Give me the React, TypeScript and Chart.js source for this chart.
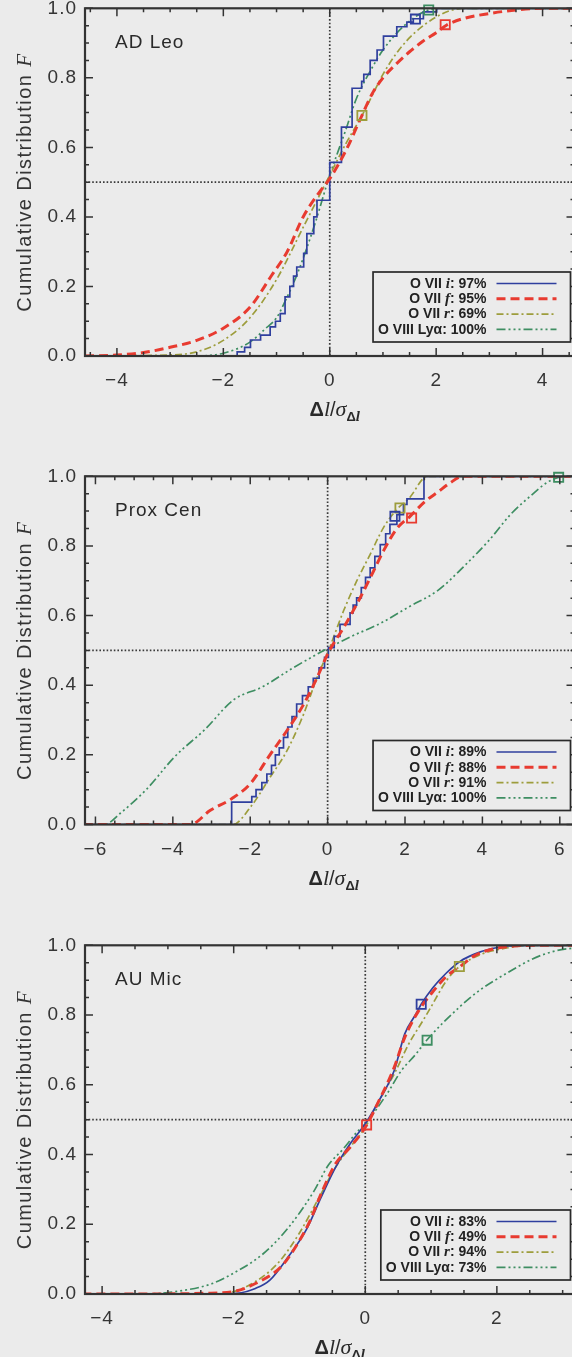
import React, { useEffect, useRef } from "react";
import { Chart, registerables } from "chart.js";
Chart.register(...registerables);

type P = [number, number];

// ---------- AD Leo ----------
const adLeoI: P[] = [[-4.6,0],[-1.74,0.012],[-1.6,0.025],[-1.49,0.046],[-1.3,0.06],[-1.12,0.084],[-1.02,0.1],[-0.93,0.122],[-0.84,0.17],[-0.75,0.2],[-0.68,0.23],[-0.62,0.256],[-0.49,0.295],[-0.43,0.352],[-0.3,0.4],[-0.24,0.448],[0.0,0.557],[0.22,0.658],[0.42,0.77],[0.6,0.79],[0.64,0.81],[0.76,0.85],[0.89,0.88],[1.01,0.92],[1.26,0.947],[1.45,0.96],[1.57,0.97],[1.76,0.99],[2.01,1.0],[4.6,1.0]];
const adLeoF: P[] = [[-4.6,0],[-4,0.003],[-3.5,0.01],[-3,0.025],[-2.5,0.045],[-2,0.08],[-1.5,0.14],[-1.1,0.23],[-0.8,0.3],[-0.5,0.4],[-0.2,0.47],[0,0.51],[0.3,0.59],[0.6,0.69],[0.8,0.755],[1,0.8],[1.25,0.84],[1.5,0.875],[1.75,0.905],[2,0.93],[2.2,0.952],[2.5,0.97],[3,0.985],[3.5,0.995],[4,1],[4.6,1]];
const adLeoR: P[] = [[-4.6,0],[-3,0.003],[-2.5,0.012],[-2,0.045],[-1.5,0.11],[-1,0.22],[-0.5,0.37],[-0.2,0.46],[0,0.52],[0.3,0.61],[0.6,0.69],[0.8,0.75],[1,0.81],[1.3,0.88],[1.6,0.93],[2,0.975],[2.3,0.995],[2.6,1],[4.6,1]];
const adLeoLya: P[] = [[-4.6,0],[-2.6,0],[-2,0.008],[-1.5,0.04],[-1.2,0.08],[-1,0.11],[-0.8,0.17],[-0.6,0.24],[-0.3,0.37],[0,0.52],[0.3,0.65],[0.5,0.74],[0.8,0.83],[1,0.88],[1.4,0.95],[1.86,0.995],[2.2,1],[4.6,1]];
const adLeoMarks: P[] = [[1.61,0.969],[2.17,0.953],[0.605,0.692],[1.86,0.995]];
const adLeoPct = [97, 95, 69, 100];
const adLeoXTicks = [-4, -2, 0, 2, 4];

// ---------- Prox Cen ----------
const proxCenI: P[] = [[-6.3,0],[-2.48,0.064],[-1.96,0.08],[-1.85,0.1],[-1.7,0.12],[-1.57,0.145],[-1.45,0.17],[-1.35,0.2],[-1.25,0.22],[-1.14,0.25],[-1.03,0.28],[-0.92,0.31],[-0.8,0.346],[-0.65,0.37],[-0.5,0.395],[-0.37,0.42],[-0.22,0.45],[-0.08,0.48],[0.02,0.508],[0.17,0.54],[0.32,0.575],[0.58,0.608],[0.66,0.63],[0.75,0.651],[0.87,0.68],[0.98,0.71],[1.1,0.737],[1.22,0.77],[1.36,0.804],[1.5,0.835],[1.61,0.862],[1.79,0.89],[1.96,0.919],[2.05,0.935],[2.49,1.0],[6.4,1.0]];
const proxCenF: P[] = [[-6.3,0],[-3.55,0],[-3.04,0.04],[-2.48,0.074],[-2,0.117],[-1.49,0.2],[-1.05,0.27],[-0.62,0.345],[-0.28,0.42],[0.02,0.494],[0.41,0.565],[0.75,0.632],[1.1,0.708],[1.44,0.785],[1.79,0.85],[2.13,0.885],[2.52,0.928],[2.85,0.955],[3.15,0.98],[3.5,1],[6.4,1]];
const proxCenR: P[] = [[-6.3,0],[-2.45,0],[-2,0.049],[-1.49,0.135],[-1.05,0.212],[-0.62,0.317],[-0.28,0.42],[0.02,0.499],[0.41,0.613],[0.75,0.699],[1.1,0.776],[1.44,0.852],[1.79,0.905],[2.13,0.94],[2.48,0.995],[2.6,1],[6.4,1]];
const proxCenLya: P[] = [[-6.3,0],[-5.77,0],[-5.35,0.033],[-4.69,0.1],[-3.94,0.196],[-3.18,0.272],[-2.43,0.358],[-1.67,0.396],[-0.92,0.448],[-0.16,0.496],[0.59,0.539],[1.35,0.577],[2.1,0.625],[2.86,0.673],[3.51,0.74],[4.17,0.816],[4.74,0.892],[5.3,0.949],[5.68,0.983],[5.97,0.997],[6.2,1],[6.4,1]];
const proxCenMarks: P[] = [[1.74,0.885],[2.17,0.88],[1.87,0.909],[5.97,0.997]];
const proxCenPct = [89, 88, 91, 100];
const proxCenXTicks = [-6, -4, -2, 0, 2, 4, 6];

// ---------- AU Mic ----------
const auMicI: P[] = [[-4.3,0],[-2.3,0],[-1.95,0.002],[-1.67,0.016],[-1.45,0.04],[-1.17,0.107],[-0.9,0.183],[-0.67,0.278],[-0.45,0.364],[-0.23,0.431],[0,0.488],[0.21,0.555],[0.44,0.641],[0.6,0.746],[0.77,0.803],[0.85,0.831],[1.03,0.879],[1.24,0.922],[1.45,0.955],[1.65,0.974],[1.91,0.99],[2.17,0.998],[2.5,1],[3.2,1]];
const auMicF: P[] = [[-4.3,0],[-3.3,0],[-2.45,0.002],[-2,0.007],[-1.67,0.03],[-1.28,0.078],[-1.06,0.135],[-0.84,0.21],[-0.67,0.288],[-0.45,0.374],[-0.23,0.421],[0,0.478],[0.21,0.555],[0.44,0.65],[0.6,0.736],[0.81,0.812],[1.04,0.87],[1.24,0.912],[1.45,0.94],[1.65,0.969],[1.91,0.988],[2.27,0.998],[2.6,1],[3.2,1]];
const auMicR: P[] = [[-4.3,0],[-2.23,0],[-1.78,0.024],[-1.34,0.086],[-1.01,0.172],[-0.73,0.267],[-0.45,0.364],[-0.23,0.421],[0,0.478],[0.21,0.555],[0.44,0.631],[0.66,0.717],[0.88,0.785],[0.98,0.817],[1.24,0.9],[1.43,0.939],[1.76,0.974],[2.17,0.993],[2.53,1],[3.2,1]];
const auMicLya: P[] = [[-4.3,0],[-3.34,0],[-2.78,0.01],[-2.34,0.029],[-2,0.06],[-1.56,0.114],[-1.17,0.19],[-0.78,0.295],[-0.56,0.37],[-0.34,0.415],[-0.12,0.466],[0,0.488],[0.33,0.574],[0.55,0.641],[0.77,0.688],[0.93,0.727],[1.45,0.826],[1.76,0.874],[2.17,0.922],[2.53,0.96],[2.89,0.984],[3.2,0.993]];
const auMicMarks: P[] = [[0.85,0.831],[0.02,0.485],[1.43,0.939],[0.94,0.728]];
const auMicPct = [83, 49, 94, 73];
const auMicXTicks = [-4, -2, 0, 2];

// ---------- shared ----------
const yTicks = [0, 0.2, 0.4, 0.6, 0.8, 1.0];
const lineIons = ["O VII ", "O VII ", "O VII ", "O VIII "];
const lineSyms = ["i", "f", "r", "Lyα"];
const yTitle = "Cumulative Distribution ";
const yTitleSym = "F";

const COLORS = ["#2f3f9e", "#e83b30", "#9d9d3c", "#3e8e62"];
const DASHES: number[][] = [[], [9, 5], [7, 3, 2, 3], [9, 3, 2, 3, 2, 3, 2, 3]];
const WIDTHS = [1.7, 3, 1.7, 1.7];
const ORDERS = [1, 0, 2, 3];
const AXIS = "#333333";
const TEXT = "#353535";
const BG = "#ebebeb";
const SANS = "'Liberation Sans', Arial, sans-serif";
const SERIF = "'Liberation Serif', 'Times New Roman', serif";

type PanelCfg = {
  name: string;
  series: P[][];
  stepped: boolean;
  marks: P[];
  pct: number[];
  xTicks: number[];
  xMin: number;
  xMax: number;
  top: number;
  padTop: number;
  padBottom: number;
  titleDx: number;
};

const PANELS: PanelCfg[] = [
  { name: "AD Leo", series: [adLeoI, adLeoF, adLeoR, adLeoLya], stepped: true, marks: adLeoMarks, pct: adLeoPct, xTicks: adLeoXTicks, xMin: -4.6, xMax: 4.6, top: 0, padTop: 7.5, padBottom: 114, titleDx: 5 },
  { name: "Prox Cen", series: [proxCenI, proxCenF, proxCenR, proxCenLya], stepped: true, marks: proxCenMarks, pct: proxCenPct, xTicks: proxCenXTicks, xMin: -6.27, xMax: 6.38, top: 467.5, padTop: 7.5, padBottom: 113.5, titleDx: 4 },
  { name: "AU Mic", series: [auMicI, auMicF, auMicR, auMicLya], stepped: false, marks: auMicMarks, pct: auMicPct, xTicks: auMicXTicks, xMin: -4.26, xMax: 3.18, top: 937, padTop: 7.5, padBottom: 113, titleDx: 10 },
];

const CW = 600;
const CH = 470;

type Seg = { t: string; f: string; dy?: number };
function segsWidth(ctx: CanvasRenderingContext2D, segs: Seg[]) {
  let w = 0;
  for (const s of segs) { ctx.font = s.f; w += ctx.measureText(s.t).width; }
  return w;
}
function drawSegs(ctx: CanvasRenderingContext2D, segs: Seg[], x: number, y: number) {
  let cx = x;
  for (const s of segs) {
    ctx.font = s.f;
    ctx.fillText(s.t, cx, y + (s.dy || 0));
    cx += ctx.measureText(s.t).width;
  }
}

function makeDeco(cfg: PanelCfg) {
  return {
    id: "deco",
    beforeDatasetsDraw(chart: any) {
      const { ctx, chartArea: a, scales } = chart;
      const x = scales.x, y = scales.y;
      ctx.save();
      ctx.strokeStyle = "#3a3a3a";
      ctx.lineWidth = 1.7;
      ctx.setLineDash([1.6, 2.0]);
      const x0 = x.getPixelForValue(0);
      const y5 = y.getPixelForValue(0.5);
      ctx.beginPath();
      ctx.moveTo(x0, a.top); ctx.lineTo(x0, a.bottom);
      ctx.moveTo(a.left, y5); ctx.lineTo(a.right, y5);
      ctx.stroke();
      ctx.restore();
    },
    afterDatasetsDraw(chart: any) {
      const { ctx, chartArea: a, scales } = chart;
      const x = scales.x, y = scales.y;
      ctx.save();
      // ticks
      ctx.strokeStyle = AXIS;
      ctx.lineWidth = 1.5;
      ctx.setLineDash([]);
      ctx.beginPath();
      const xStart = Math.ceil(cfg.xMin * 2) / 2;
      for (let v = xStart; v <= cfg.xMax + 1e-9; v += 0.5) {
        const px = x.getPixelForValue(v);
        const major = Math.abs(v / 2 - Math.round(v / 2)) < 1e-6;
        const len = major ? 8 : 4;
        ctx.moveTo(px, a.bottom); ctx.lineTo(px, a.bottom - len);
        ctx.moveTo(px, a.top); ctx.lineTo(px, a.top + len);
      }
      for (let i = 0; i <= 20; i++) {
        const v = i * 0.05;
        const py = y.getPixelForValue(v);
        const major = i % 4 === 0;
        const len = major ? 8 : 4;
        ctx.moveTo(a.left, py); ctx.lineTo(a.left + len, py);
        ctx.moveTo(a.right, py); ctx.lineTo(a.right - len, py);
      }
      ctx.stroke();
      // box
      ctx.lineWidth = 2.2;
      ctx.strokeRect(a.left, a.top, a.right - a.left, a.bottom - a.top);

      // tick labels
      ctx.fillStyle = TEXT;
      ctx.font = `19px ${SANS}`;
      (ctx as any).letterSpacing = "1px";
      ctx.textAlign = "right";
      ctx.textBaseline = "middle";
      for (const v of yTicks) {
        ctx.fillText(v.toFixed(1), 77, y.getPixelForValue(v));
      }
      ctx.textAlign = "center";
      for (const v of cfg.xTicks) {
        const lab = v < 0 ? "\u2212" + Math.abs(v) : String(v);
        ctx.fillText(lab, x.getPixelForValue(v), a.bottom + 25);
      }
      (ctx as any).letterSpacing = "0px";

      // panel name
      ctx.fillStyle = "#2a2a2a";
      ctx.textAlign = "left";
      ctx.textBaseline = "alphabetic";
      ctx.font = `19px ${SANS}`;
      (ctx as any).letterSpacing = "1px";
      ctx.fillText(cfg.name, 115, a.top + 40);
      (ctx as any).letterSpacing = "0px";

      // x title
      ctx.fillStyle = "#2a2a2a";
      const xt: Seg[] = [
        { t: "Δ", f: `bold 20px ${SANS}` },
        { t: "l", f: `italic 22px ${SERIF}` },
        { t: "/", f: `20px ${SANS}` },
        { t: "σ", f: `italic 22px ${SERIF}` },
        { t: "Δ", f: `bold 13px ${SANS}`, dy: 5 },
        { t: "l", f: `italic bold 15px ${SERIF}`, dy: 5 },
      ];
      const xtw = segsWidth(ctx, xt);
      const xc = (a.left + a.right) / 2 + cfg.titleDx;
      drawSegs(ctx, xt, xc - xtw / 2, a.bottom + 60);

      // y title
      ctx.save();
      const yc = (a.top + a.bottom) / 2;
      ctx.translate(25, yc);
      ctx.rotate(-Math.PI / 2);
      ctx.textBaseline = "middle";
      ctx.fillStyle = TEXT;
      (ctx as any).letterSpacing = "1.4px";
      const yt: Seg[] = [
        { t: yTitle, f: `20px ${SANS}` },
        { t: yTitleSym, f: `italic 21px ${SERIF}` },
      ];
      const ytw = segsWidth(ctx, yt);
      drawSegs(ctx, yt, -ytw / 2, 0);
      ctx.restore();

      // legend
      const right = a.right - 4;
      const bottom = a.bottom - 14;
      const boxH = 70;
      const boxTop = bottom - boxH;
      const textRight = right - 84;
      const rows: Seg[][] = cfg.pct.map((p, i) => {
        const fb = `bold 14px ${SANS}`;
        if (i === 3) return [{ t: lineIons[i] + lineSyms[i] + ": " + p + "%", f: fb }];
        return [
          { t: lineIons[i], f: fb },
          { t: lineSyms[i], f: `italic bold 15px ${SERIF}` },
          { t: ": " + p + "%", f: fb },
        ];
      });
      let maxW = 0;
      for (const r of rows) maxW = Math.max(maxW, segsWidth(ctx, r));
      const boxLeft = textRight - maxW - 5;
      ctx.fillStyle = BG;
      ctx.fillRect(boxLeft, boxTop, right - boxLeft, boxH);
      ctx.strokeStyle = "#2a2a2a";
      ctx.lineWidth = 1.7;
      ctx.strokeRect(boxLeft, boxTop, right - boxLeft, boxH);
      ctx.textBaseline = "middle";
      ctx.textAlign = "left";
      rows.forEach((r, i) => {
        const cy = boxTop + 11.5 + i * 15.3;
        ctx.fillStyle = "#222222";
        const w = segsWidth(ctx, r);
        drawSegs(ctx, r, textRight - w, cy + 0.5);
        ctx.strokeStyle = COLORS[i];
        ctx.lineWidth = WIDTHS[i];
        ctx.setLineDash(DASHES[i]);
        ctx.beginPath();
        ctx.moveTo(right - 74, cy);
        ctx.lineTo(right - 14, cy);
        ctx.stroke();
      });
      ctx.setLineDash([]);
      ctx.restore();
    },
  };
}

function Panel({ cfg }: { cfg: PanelCfg }) {
  const ref = useRef<HTMLCanvasElement | null>(null);
  useEffect(() => {
    const canvas = ref.current;
    if (!canvas) return;
    const datasets: any[] = cfg.series.map((s, i) => ({
      label: lineIons[i] + lineSyms[i],
      data: s.map(([x, y]) => ({ x, y })),
      borderColor: COLORS[i],
      borderWidth: WIDTHS[i],
      borderDash: DASHES[i],
      pointRadius: 0,
      fill: false,
      order: ORDERS[i],
      stepped: i === 0 && cfg.stepped ? "before" : false,
      cubicInterpolationMode: "monotone",
      tension: 0.4,
    }));
    cfg.marks.forEach(([x, y], i) => {
      datasets.push({
        label: "mark" + i,
        data: [{ x, y }],
        showLine: false,
        pointStyle: "rect",
        pointRadius: 6.5,
        pointBorderWidth: 1.8,
        pointBorderColor: COLORS[i],
        pointBackgroundColor: "rgba(0,0,0,0)",
        order: -1,
        clip: false,
      });
    });
    const chart = new Chart(canvas, {
      type: "line",
      data: { datasets },
      options: {
        animation: false,
        responsive: false,
        maintainAspectRatio: false,
        events: [],
        layout: { padding: { left: 85, right: CW - 574.5, top: cfg.padTop, bottom: cfg.padBottom } },
        scales: {
          x: { type: "linear", min: cfg.xMin, max: cfg.xMax, display: false },
          y: { type: "linear", min: 0, max: 1, display: false },
        },
        plugins: { legend: { display: false }, tooltip: { enabled: false } },
      },
      plugins: [makeDeco(cfg)],
    } as any);
    return () => chart.destroy();
  }, [cfg]);
  return (
    <canvas
      ref={ref}
      width={CW}
      height={CH}
      style={{ position: "absolute", left: 0, top: cfg.top, width: CW, height: CH }}
    />
  );
}

export default function App() {
  return (
    <div
      style={{
        position: "fixed",
        left: 0,
        top: 0,
        width: 572,
        height: 1357,
        overflow: "hidden",
        background: BG,
      }}
    >
      {PANELS.map((p) => (
        <Panel key={p.name} cfg={p} />
      ))}
    </div>
  );
}
